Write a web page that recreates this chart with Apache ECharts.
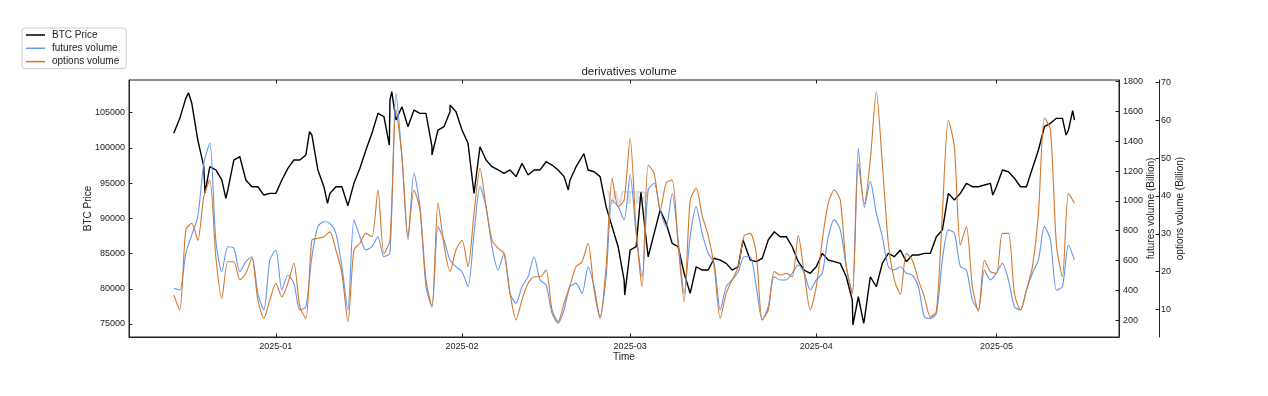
<!DOCTYPE html>
<html><head><meta charset="utf-8">
<script src="https://cdn.jsdelivr.net/npm/echarts@6/dist/echarts.min.js"></script>
<style>html,body{margin:0;padding:0;background:#fff}#c{width:1268px;height:396px}</style>
</head><body><div id="c"></div>
<script>
// daily samples starting at this date
const startDate = [2024, 11, 15];
const btcPrice = [102075,104200,107040,106330,101120,97330,97330,96870,95450,94030,
98280,98750,95450,94490,94490,93310,93550,93550,95450,97100,
98280,98280,98990,101830,96870,94490,93550,94490,94490,91800,
94970,97100,99700,102070,104910,104430,106800,103960,105850,103010,
105380,104910,104910,100170,102540,103010,105140,105140,102540,100650,
93550,100170,98280,97330,96870,96400,96870,95920,97810,96160,
96870,96870,98040,97570,96870,95920,95450,97330,98750,96870,
96620,95920,91650,88810,85970,81240,85500,85970,93550,84550,
87870,91180,89290,86460,85970,82200,79350,83130,82660,82660,
84330,84080,83610,82660,83130,86460,84080,83850,84320,86930,
88100,87390,87390,85970,83850,82660,82200,83130,85030,84080,
83850,83610,81710,78400,78870,75560,81710,80290,83610,85030,
84560,85500,83850,84800,84800,85030,85030,87390,88340,93550,
92600,93550,94970,94490,94490,94730,94970,94490,96870,96620,
95690,94490,94490,97100,99700,103010,103490,104200,104200,102540,
103960];
// intraday extremes (day offset from startDate, price)
const btcExtraDays = [2.45, 5.2, 8.67, 22.6, 25.6, 35.9, 36.3, 43.0, 46.0, 65.7, 68.3, 75.1, 77.8, 94.8, 113.1, 114.9, 136.4, 148.6, 149.7];
const btcExtraPrice = [107840, 93600, 92850, 102300, 92130, 100400, 107980, 99000, 106090, 94030, 99200, 79110, 93700, 86930, 74850, 75090, 93310, 101830, 105280];
const futuresVolume = [413,401,648,771,894,1252,1387,737,524,692,
681,524,592,625,379,268,603,670,401,502,
446,268,289,625,827,860,849,782,558,268,
872,759,670,692,759,625,648,1722,1297,737,
1185,961,424,289,827,737,603,558,524,424,
782,1095,961,692,536,648,379,312,424,491,
625,469,435,245,178,268,424,446,379,558,
424,211,491,1006,961,872,1174,782,491,1073,
1118,939,827,1051,737,379,759,961,782,648,
581,268,424,469,524,625,625,424,200,289,
491,469,469,514,569,514,401,469,514,759,
872,805,558,379,1353,955,1129,917,759,558,
536,558,514,502,424,222,211,245,603,805,
782,558,536,334,268,536,469,514,581,469,
289,268,401,514,603,827,737,401,424,704,
603];
const optionsVolume = [13.8,9.8,31.0,32.8,28.3,39.8,44.2,23.9,12.9,22.6,
22.6,17.8,19.5,23.5,12.5,7.6,12.5,16.9,13.3,16.9,
22.2,10.7,7.6,28.3,28.8,29.2,30.5,25.7,19.5,6.7,
25.7,27.5,30.1,29.2,41.6,24.8,28.3,62.8,50.4,29.2,
41.6,36.3,17.8,10.7,38.1,27.0,20.0,25.7,28.3,21.3,
35.4,47.3,37.2,28.3,26.2,24.8,14.2,7.2,12.5,16.9,
18.6,18.6,20.4,9.8,6.7,11.6,16.4,21.3,22.6,27.5,
15.1,8.0,21.3,44.7,37.2,38.9,55.3,31.0,16.0,48.2,
46.0,36.3,43.4,44.2,27.0,12.0,38.9,42.0,34.8,29.5,
21.3,7.6,14.2,17.8,21.3,29.5,30.1,24.8,7.2,9.8,
20.0,19.1,19.5,18.6,29.5,19.5,9.8,16.0,28.3,38.1,
41.6,38.9,21.3,14.2,48.6,37.9,49.5,67.6,48.6,27.5,
17.8,14.0,24.8,23.0,17.8,13.3,8.0,9.5,35.4,60.1,
53.0,27.0,31.9,16.0,9.5,23.0,20.0,19.5,30.1,30.1,
14.2,9.8,15.1,21.3,35.4,60.6,57.5,27.0,18.6,40.7,
38.1];
const monthTicks = ['2025-01','2025-02','2025-03','2025-04','2025-05'];
const btcTicks = [75000,80000,85000,90000,95000,100000,105000];
const futuresTicks = [200,400,600,800,1000,1200,1400,1600,1800];
const optionsTicks = [10,20,30,40,50,60,70];

const DAY = 86400000;
const t0 = Date.UTC(startDate[0], startDate[1], startDate[2]);
const pair = arr => arr.map((v, i) => [t0 + i * DAY, v]);
const btcData = pair(btcPrice)
  .concat(btcExtraDays.map((d, i) => [t0 + d * DAY, btcExtraPrice[i]]))
  .sort((a, b) => a[0] - b[0]);
const monthVals = monthTicks.map(s => Date.UTC(+s.slice(0, 4), +s.slice(5) - 1, 1));
const xMin = Date.UTC(2024, 11, 7, 13), xMax = Date.UTC(2025, 4, 21, 10);
const fmtMonth = v => { const d = new Date(v); return d.getUTCFullYear() + '-' + String(d.getUTCMonth() + 1).padStart(2, '0'); };

const AX = '#222';
const LAB = {fontFamily: 'Liberation Sans', fontSize: 9, color: '#222'};
const NAME = {fontFamily: 'Liberation Sans', fontSize: 10, color: '#222'};

function yAx(o) {
  return Object.assign({
    type: 'value', nameLocation: 'middle', nameRotate: 90, nameMoveOverlap: false,
    nameTextStyle: NAME,
    axisLine: {show: true, lineStyle: {color: AX, width: 1}},
    axisTick: {show: true, inside: true, length: 3.5, lineStyle: {color: AX}, customValues: o.ticks},
    axisLabel: Object.assign({customValues: o.ticks, margin: o.margin, formatter: v => String(v)}, LAB),
    splitLine: {show: false}
  }, o.opt);
}

const chart = echarts.init(document.getElementById('c'), null, {renderer: 'canvas'});
chart.setOption({
  animation: false,
  backgroundColor: '#fff',
  title: {
    text: 'derivatives volume', left: 624, top: 61, textAlign: 'center',
    textStyle: {fontFamily: 'Liberation Sans', fontSize: 11.5, fontWeight: 'normal', color: '#222'}
  },
  legend: {
    orient: 'vertical', left: 22, top: 28,
    padding: [1, 7, 1, 4], itemGap: 1.3, itemWidth: 19, itemHeight: 1.5,
    borderColor: '#ccc', borderWidth: 1, borderRadius: 3, backgroundColor: 'rgba(255,255,255,0.8)',
    textStyle: {fontFamily: 'Liberation Sans', fontSize: 10, color: '#222', lineHeight: 12, padding: [0, 0, 0, 2]},
    data: [
      {name: 'BTC Price', icon: 'rect', itemStyle: {color: '#000'}},
      {name: 'futures volume', icon: 'rect', itemStyle: {color: '#6495ED'}},
      {name: 'options volume', icon: 'rect', itemStyle: {color: '#D2782E'}}
    ]
  },
  grid: {left: 129, right: 149, top: 80, bottom: 59, show: true, borderColor: AX, borderWidth: 1, backgroundColor: 'transparent'},
  xAxis: [{
    type: 'value', min: xMin, max: xMax,
    name: 'Time', nameLocation: 'middle', nameGap: 15, nameMoveOverlap: false, nameTextStyle: NAME,
    axisLine: {show: true, lineStyle: {color: AX}},
    axisTick: {show: true, inside: true, length: 3.5, lineStyle: {color: AX}, customValues: monthVals},
    axisLabel: Object.assign({customValues: monthVals, margin: 5, formatter: fmtMonth}, LAB),
    splitLine: {show: false}
  }, {
    type: 'value', position: 'top', min: xMin, max: xMax,
    axisLine: {show: false},
    axisTick: {show: true, inside: true, length: 3.5, lineStyle: {color: AX}, customValues: monthVals},
    axisLabel: {show: false, customValues: monthVals},
    splitLine: {show: false}
  }],
  yAxis: [
    yAx({ticks: btcTicks, margin: 4, opt: {position: 'left', min: 73155, max: 109642, name: 'BTC Price', nameGap: 36}}),
    yAx({ticks: futuresTicks, margin: 4, opt: {position: 'right', min: 86, max: 1811, name: 'futures volume (Billion)', nameGap: 27}}),
    yAx({ticks: optionsTicks, margin: 2, opt: {position: 'right', offset: 40, min: 2.67, max: 70.7, name: 'options volume (Billion)', nameGap: 16}})
  ],
  graphic: [{
    type: 'text', left: 607, top: 190, silent: true, z: 0,
    style: {text: 'WTR', fontFamily: 'Liberation Sans', fontSize: 18, fontWeight: 'bold', fill: 'rgba(150,150,150,0.3)'}
  }],
  series: [
    {name: 'BTC Price', type: 'line', yAxisIndex: 0, data: btcData, showSymbol: false, symbol: 'none',
     lineStyle: {color: '#000', width: 1.4}, itemStyle: {color: '#000'}},
    {name: 'futures volume', type: 'line', yAxisIndex: 1, data: pair(futuresVolume), showSymbol: false, symbol: 'none', smooth: 0.25,
     lineStyle: {color: '#6495ED', width: 1.1}, itemStyle: {color: '#6495ED'}},
    {name: 'options volume', type: 'line', yAxisIndex: 2, data: pair(optionsVolume), showSymbol: false, symbol: 'none', smooth: 0.25,
     lineStyle: {color: '#D2782E', width: 1.1}, itemStyle: {color: '#D2782E'}}
  ]
});
</script>
</body></html>
